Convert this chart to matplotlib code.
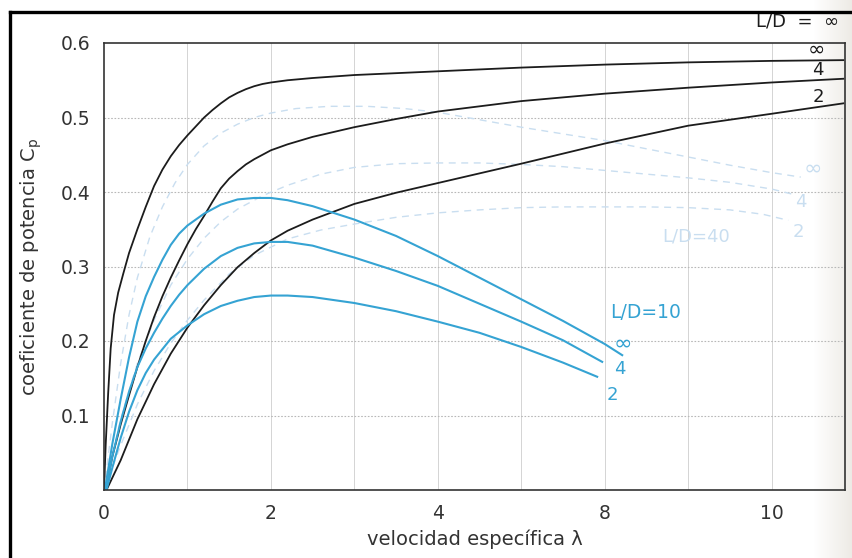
import matplotlib.pyplot as plt
import numpy as np
from matplotlib.lines import Line2D

# x values are in grid steps; the printed tick labels are 0, 2, 4, 8, 10
tick_pos = [0, 2, 4, 6, 8]
tick_labels = ["0", "2", "4", "8", "10"]
ytick_vals = [0.1, 0.2, 0.3, 0.4, 0.5, 0.6]

# black curves (ideal, no tip losses)
blk_inf_x = [0.0, 0.02, 0.05, 0.08, 0.12, 0.17, 0.23, 0.3, 0.4, 0.5, 0.6, 0.7, 0.8, 0.9, 1.0, 1.1, 1.2, 1.3, 1.4, 1.5,
             1.6, 1.7, 1.8, 1.9, 2.0, 2.2, 2.5, 3.0, 4.0, 5.0, 6.0, 7.0, 8.0, 8.86]
blk_inf_y = [0.0, 0.06, 0.13, 0.19, 0.235, 0.265, 0.29, 0.318, 0.35, 0.38, 0.408, 0.43, 0.448, 0.463, 0.476, 0.488, 0.5,
             0.51, 0.519, 0.527, 0.533, 0.538, 0.542, 0.545, 0.547, 0.55, 0.553, 0.557, 0.562, 0.567, 0.571, 0.574, 0.576, 0.577]
blk_4_x = [0.02, 0.1, 0.2, 0.3, 0.4, 0.5, 0.6, 0.7, 0.8, 0.9, 1.0, 1.1, 1.2, 1.3, 1.4, 1.5, 1.6, 1.7, 1.8, 1.9, 2.0,
           2.2, 2.5, 3.0, 3.5, 4.0, 5.0, 6.0, 7.0, 8.0, 8.86]
blk_4_y = [0.0, 0.045, 0.088, 0.127, 0.165, 0.2, 0.232, 0.26, 0.285, 0.308, 0.33, 0.35, 0.368, 0.387, 0.405, 0.418,
           0.428, 0.437, 0.444, 0.45, 0.456, 0.464, 0.474, 0.487, 0.498, 0.508, 0.522, 0.532, 0.54, 0.547, 0.552]
blk_2_x = [0.03, 0.2, 0.4, 0.6, 0.8, 1.0, 1.2, 1.4, 1.6, 1.8, 2.0, 2.2, 2.5, 3.0, 3.5, 4.0, 5.0, 6.0, 7.0, 8.0, 8.86]
blk_2_y = [0.0, 0.04, 0.095, 0.142, 0.183, 0.218, 0.248, 0.275, 0.299, 0.318, 0.335, 0.348, 0.363, 0.384, 0.399,
           0.412, 0.438, 0.465, 0.489, 0.505, 0.519]

# blue curves, L/D = 10
blu_inf_x = [0.01, 0.1, 0.2, 0.3, 0.4, 0.5, 0.6, 0.7, 0.8, 0.9, 1.0, 1.2, 1.4, 1.6, 1.8, 2.0, 2.2, 2.5, 3.0, 3.5,
             4.0, 4.5, 5.0, 5.5, 6.0, 6.21]
blu_inf_y = [0.0, 0.062, 0.122, 0.178, 0.226, 0.26, 0.286, 0.309, 0.329, 0.344, 0.355, 0.371, 0.383, 0.39, 0.392,
             0.392, 0.389, 0.381, 0.363, 0.341, 0.314, 0.285, 0.256, 0.227, 0.196, 0.181]
blu_4_x = [0.02, 0.1, 0.2, 0.3, 0.4, 0.5, 0.6, 0.7, 0.8, 0.9, 1.0, 1.2, 1.4, 1.6, 1.8, 2.0, 2.2, 2.5, 3.0, 3.5, 4.0,
           4.5, 5.0, 5.5, 5.97]
blu_4_y = [0.0, 0.045, 0.092, 0.132, 0.165, 0.19, 0.211, 0.23, 0.247, 0.262, 0.275, 0.297, 0.314, 0.325, 0.331,
           0.333, 0.333, 0.328, 0.312, 0.294, 0.274, 0.25, 0.226, 0.201, 0.172]
blu_2_x = [0.03, 0.1, 0.2, 0.3, 0.4, 0.5, 0.6, 0.8, 1.0, 1.2, 1.4, 1.6, 1.8, 2.0, 2.2, 2.5, 3.0, 3.5, 4.0, 4.5, 5.0,
           5.5, 5.91]
blu_2_y = [0.0, 0.03, 0.07, 0.105, 0.134, 0.157, 0.175, 0.203, 0.221, 0.236, 0.247, 0.254, 0.259, 0.261, 0.261,
           0.259, 0.251, 0.24, 0.226, 0.211, 0.192, 0.171, 0.152]

# faint dashed curves, L/D = 40
das_inf_x = [0.0, 0.1, 0.2, 0.3, 0.4, 0.55, 0.7, 0.85, 1.0, 1.2, 1.4, 1.6, 1.8, 2.0, 2.3, 2.7, 3.15, 3.6, 4.0, 4.5,
             5.0, 5.5, 6.0, 6.5, 7.0, 7.5, 8.0, 8.35]
das_inf_y = [0.0, 0.09, 0.17, 0.235, 0.285, 0.34, 0.38, 0.412, 0.437, 0.462, 0.479, 0.491, 0.5, 0.506, 0.512, 0.515,
             0.515, 0.512, 0.507, 0.497, 0.487, 0.478, 0.469, 0.458, 0.447, 0.436, 0.426, 0.42]
das_4_x = [0.0, 0.2, 0.4, 0.6, 0.8, 1.0, 1.2, 1.4, 1.6, 1.9, 2.2, 2.6, 3.0, 3.5, 4.0, 4.5, 5.0, 5.5, 6.0, 6.5, 7.0,
           7.5, 8.0, 8.29]
das_4_y = [0.0, 0.095, 0.17, 0.228, 0.275, 0.31, 0.338, 0.36, 0.377, 0.395, 0.409, 0.424, 0.433, 0.438, 0.439, 0.439,
           0.437, 0.434, 0.429, 0.424, 0.419, 0.413, 0.404, 0.396]
das_2_x = [0.0, 0.2, 0.4, 0.6, 0.8, 1.0, 1.2, 1.5, 1.8, 2.2, 2.6, 3.0, 3.5, 4.0, 4.5, 5.0, 5.5, 6.0, 6.5, 7.0, 7.5,
           7.9, 8.2]
das_2_y = [0.0, 0.06, 0.115, 0.16, 0.197, 0.228, 0.255, 0.29, 0.315, 0.337, 0.349, 0.357, 0.366, 0.372, 0.376, 0.379,
           0.38, 0.38, 0.38, 0.379, 0.376, 0.37, 0.362]

black = "#1c1c1c"
blue = "#35a3d3"
pale = "#c9def0"

fig = plt.figure(figsize=(8.53, 5.58), dpi=100)

# light scan shading on the right edge
bg = fig.add_axes([0, 0, 1, 1], zorder=-10)
grad = np.linspace(0, 1, 400)
shade = np.clip((grad - 0.955) / 0.045, 0, 1)
img = np.ones((2, 400, 3))
for c, v in enumerate([0.93, 0.92, 0.90]):
    img[:, :, c] = 1 - shade * (1 - v)
bg.imshow(img, aspect="auto", extent=[0, 1, 0, 1])
bg.axis("off")

ax = fig.add_axes([104 / 853, 1 - 490 / 558, 741 / 853, 447 / 558])
ax.set_facecolor("none")

for x, y in [(das_inf_x, das_inf_y), (das_4_x, das_4_y), (das_2_x, das_2_y)]:
    ax.plot(x, y, color=pale, lw=1.0, dashes=(5, 4))
for x, y in [(blk_inf_x, blk_inf_y), (blk_4_x, blk_4_y), (blk_2_x, blk_2_y)]:
    ax.plot(x, y, color=black, lw=1.3, solid_joinstyle="round")
for x, y in [(blu_inf_x, blu_inf_y), (blu_4_x, blu_4_y), (blu_2_x, blu_2_y)]:
    ax.plot(x, y, color=blue, lw=1.5, solid_joinstyle="round")

ax.set_xlim(0, 8.88)
ax.set_ylim(0, 0.6)
ax.set_xticks(tick_pos)
ax.set_xticklabels(tick_labels)
ax.set_yticks(ytick_vals)
ax.set_yticklabels([f"{v:.1f}" for v in ytick_vals])
ax.tick_params(length=0, labelsize=13.5, labelcolor="#333333", pad=10)

for gx in range(1, 9):
    ax.axvline(gx, color="#d4d4d4", lw=0.7, zorder=0)
for gy in [0.1, 0.2, 0.3, 0.4, 0.5]:
    ax.axhline(gy, color="#b8b8b8", lw=0.8, ls=(0, (1.5, 1.5)), zorder=0)
for s in ax.spines.values():
    s.set_color("#333333")
    s.set_linewidth(1.2)

ax.set_xlabel("velocidad específica λ", fontsize=14, color="#333333", labelpad=5)
ax.set_ylabel("coeficiente de potencia C$_\\mathregular{p}$", fontsize=14, color="#333333", labelpad=12)

# curve labels
ax.text(8.54, 0.591, "∞", color=black, fontsize=15, ha="center", va="center")
ax.text(8.56, 0.564, "4", color=black, fontsize=13, ha="center", va="center")
ax.text(8.56, 0.528, "2", color=black, fontsize=13, ha="center", va="center")
ax.text(8.49, 0.432, "∞", color=pale, fontsize=16, ha="center", va="center")
ax.text(8.35, 0.387, "4", color=pale, fontsize=13, ha="center", va="center")
ax.text(8.32, 0.346, "2", color=pale, fontsize=13, ha="center", va="center")
ax.text(7.09, 0.34, "L/D=40", color=pale, fontsize=13, ha="center", va="center")
ax.text(6.49, 0.238, "L/D=10", color=blue, fontsize=13.5, ha="center", va="center")
ax.text(6.22, 0.197, "∞", color=blue, fontsize=16, ha="center", va="center")
ax.text(6.18, 0.162, "4", color=blue, fontsize=13, ha="center", va="center")
ax.text(6.09, 0.128, "2", color=blue, fontsize=13, ha="center", va="center")
fig.text(798 / 853, 1 - 22 / 558, "L/D  =  ∞", color=black, fontsize=13, ha="center", va="center")

# outer frame of the scanned figure
fy = 1 - 12 / 558
fx = 10 / 853
fig.add_artist(Line2D([fx, fx], [0, fy], color="black", lw=2.4, transform=fig.transFigure))
fig.add_artist(Line2D([fx, 1], [fy, fy], color="black", lw=2.4, transform=fig.transFigure))

fig.savefig("out.png", dpi=100)
